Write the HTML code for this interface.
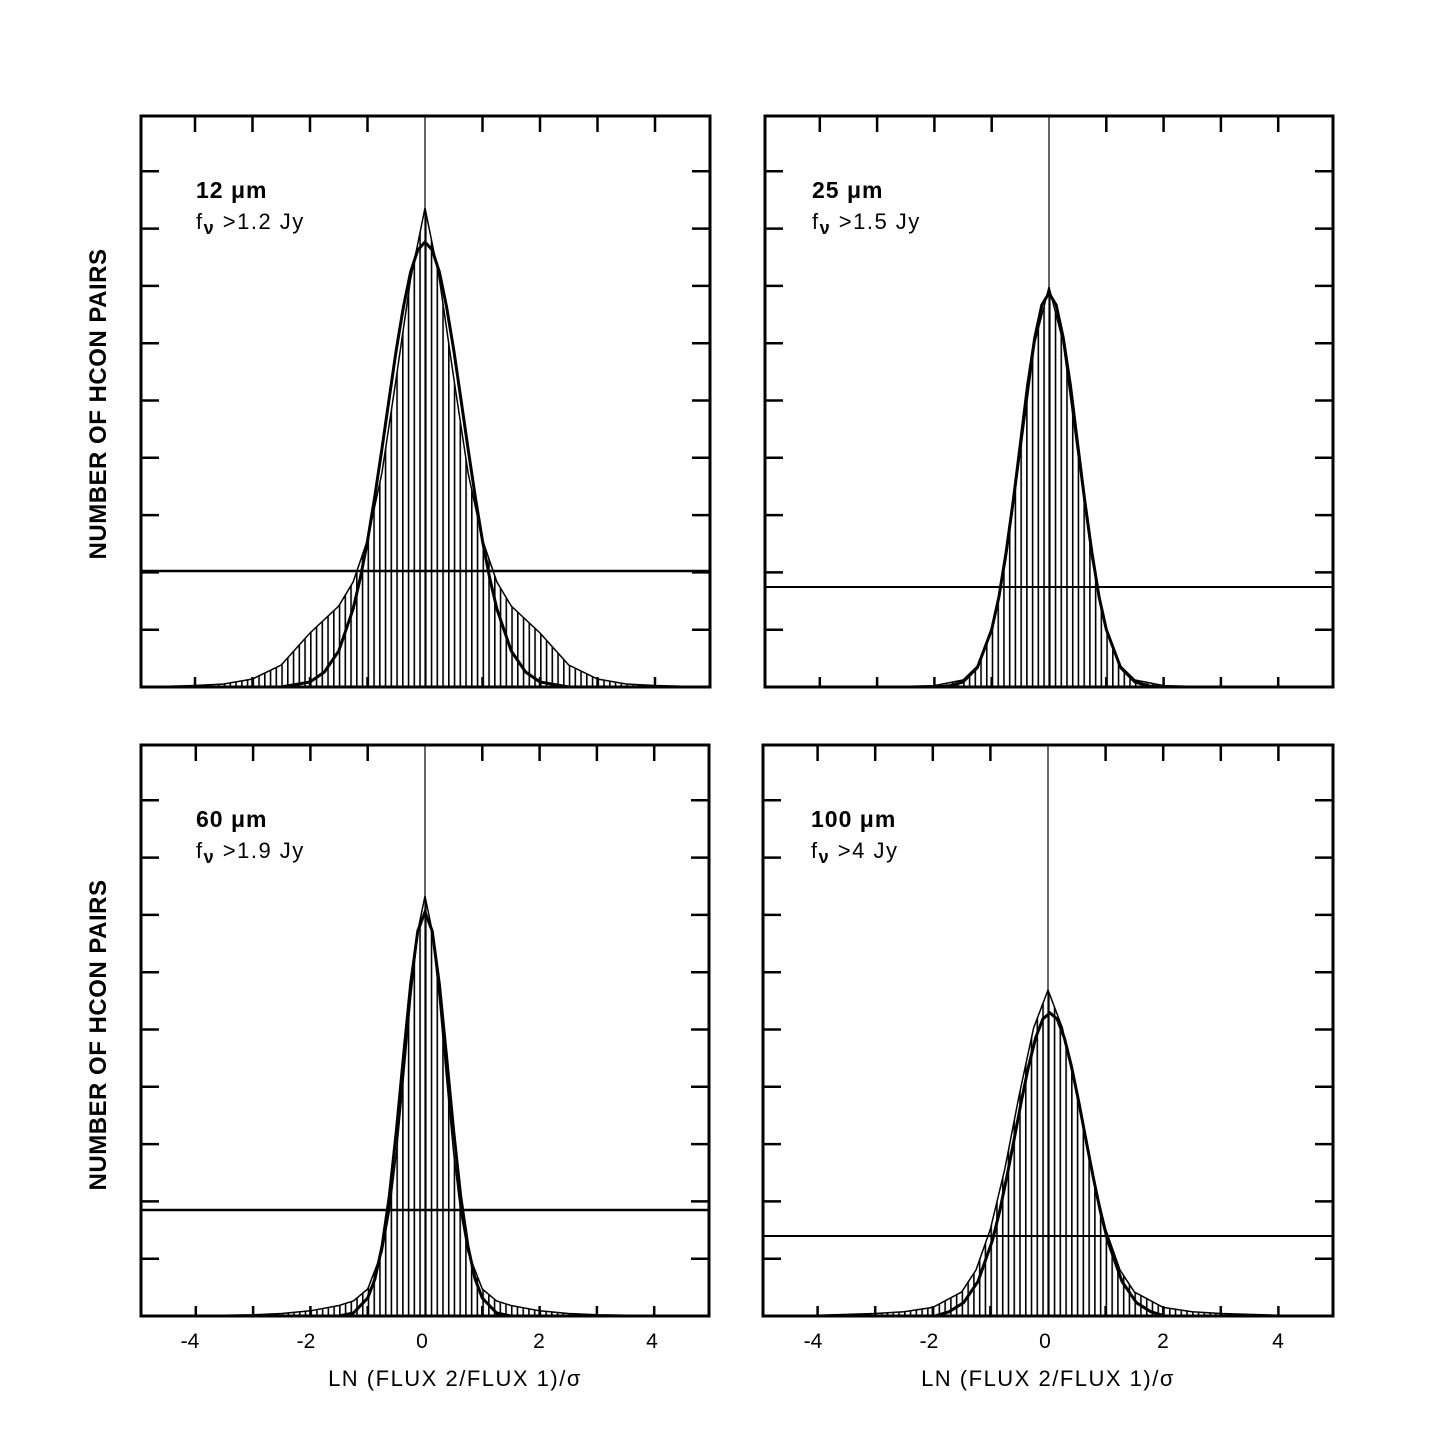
<!DOCTYPE html>
<html><head><meta charset="utf-8"><style>
html,body{margin:0;padding:0;background:#fff;}
svg{display:block;}
text{font-family:"Liberation Sans",sans-serif;fill:#000;}
</style></head><body>
<svg width="1456" height="1443" xmlns="http://www.w3.org/2000/svg">
<defs>
<pattern id="p1" x="425" y="0" width="5.75" height="10" patternUnits="userSpaceOnUse"><rect x="0" y="0" width="1.6" height="10" fill="#000"/></pattern>
<pattern id="p2" x="1049" y="0" width="5.73" height="10" patternUnits="userSpaceOnUse"><rect x="0" y="0" width="1.6" height="10" fill="#000"/></pattern>
<pattern id="p3" x="425" y="0" width="5.73" height="10" patternUnits="userSpaceOnUse"><rect x="0" y="0" width="1.6" height="10" fill="#000"/></pattern>
<pattern id="p4" x="1048" y="0" width="5.76" height="10" patternUnits="userSpaceOnUse"><rect x="0" y="0" width="1.6" height="10" fill="#000"/></pattern>
</defs>

<!-- Panel 1: 12 um -->
<path d="M141,687 L195,685.5 L223.75,684 L252.5,679 L281.25,665 L310,633 L338.75,606 L353.1,582 L367.5,540 L381.9,473 L396.25,378 L410.6,279 L425,208 L439.4,279 L453.75,378 L468.1,473 L482.5,540 L496.9,582 L511.25,606 L540,633 L568.75,665 L597.5,679 L626.25,684 L655,685.5 L710,687 Z" fill="url(#p1)" stroke="#000" stroke-width="1.5"/>
<path d="M141,687 L281.25,687 L310,682 L324.4,672 L338.75,651 L353.1,609 L360.3,578 L367.5,541 L374.7,497 L381.9,449 L389.1,399 L396.25,350 L403.4,307 L410.6,272 L417.8,250 L425,242 L432.2,250 L439.4,272 L446.6,307 L453.75,350 L460.9,399 L468.1,449 L475.3,497 L482.5,541 L489.7,578 L496.9,609 L511.25,651 L525.6,672 L540,682 L568.75,687 L710,687" fill="none" stroke="#000" stroke-width="3"/>
<line x1="141" x2="710" y1="571" y2="571" stroke="#000" stroke-width="2.5"/>
<line x1="425" x2="425" y1="116" y2="687" stroke="#000" stroke-width="1.2"/>
<rect x="141" y="116" width="569" height="571" fill="none" stroke="#000" stroke-width="3"/>
<path d="M141,629.7h18M141,572.4h18M141,515.1h18M141,457.8h18M141,400.5h18M141,343.2h18M141,285.9h18M141,228.6h18M141,171.3h18M710,629.7h-18M710,572.4h-18M710,515.1h-18M710,457.8h-18M710,400.5h-18M710,343.2h-18M710,285.9h-18M710,228.6h-18M710,171.3h-18M195,116v16M252.5,116v16M310,116v16M367.5,116v16M482.5,116v16M540,116v16M597.5,116v16M655,116v16M195,687v-10M252.5,687v-10M310,687v-10M367.5,687v-10M482.5,687v-10M540,687v-10M597.5,687v-10M655,687v-10" stroke="#000" stroke-width="2.5" fill="none"/>
<text x="196" y="198" font-size="23" font-weight="bold" letter-spacing="1">12 μm</text>
<text x="196" y="229" font-size="22" letter-spacing="1.5">f<tspan font-size="18" font-weight="bold" dy="5">ν</tspan><tspan dy="-5"> &gt;1.2 Jy</tspan></text>

<!-- Panel 2: 25 um -->
<path d="M877,687 L905.75,686.4 L934.4,685.6 L963,680 L977.4,666 L991.7,631 L1006,559 L1020.35,452 L1034.7,343 L1049,287 L1063.3,343 L1077.65,452 L1092,559 L1106.3,631 L1120.6,666 L1135,680 L1163.6,685.6 L1192.25,686.4 L1221,687 Z" fill="url(#p2)" stroke="#000" stroke-width="1.5"/>
<path d="M765,687 L934.4,687 L948.7,686 L963,682 L977.4,667.5 L991.7,629.5 L998.9,597 L1006,553 L1013.2,501 L1020.35,444 L1027.5,386 L1034.7,338 L1041.8,305 L1049,293 L1056.2,305 L1063.3,338 L1070.5,386 L1077.65,444 L1084.8,501 L1092,553 L1099.1,597 L1106.3,629.5 L1120.6,667.5 L1135,682 L1149.3,686 L1163.6,687 L1333,687" fill="none" stroke="#000" stroke-width="3"/>
<line x1="765" x2="1333" y1="587" y2="587" stroke="#000" stroke-width="2"/>
<line x1="1049" x2="1049" y1="116" y2="687" stroke="#000" stroke-width="1.2"/>
<rect x="765" y="116" width="568" height="571" fill="none" stroke="#000" stroke-width="3"/>
<path d="M765,629.7h18M765,572.4h18M765,515.1h18M765,457.8h18M765,400.5h18M765,343.2h18M765,285.9h18M765,228.6h18M765,171.3h18M1333,629.7h-18M1333,572.4h-18M1333,515.1h-18M1333,457.8h-18M1333,400.5h-18M1333,343.2h-18M1333,285.9h-18M1333,228.6h-18M1333,171.3h-18M819.8,116v16M877.1,116v16M934.4,116v16M991.7,116v16M1106.3,116v16M1163.6,116v16M1220.9,116v16M1278.2,116v16M819.8,687v-10M877.1,687v-10M934.4,687v-10M991.7,687v-10M1106.3,687v-10M1163.6,687v-10M1220.9,687v-10M1278.2,687v-10" stroke="#000" stroke-width="2.5" fill="none"/>
<text x="812" y="198" font-size="23" font-weight="bold" letter-spacing="1">25 μm</text>
<text x="812" y="229" font-size="22" letter-spacing="1.5">f<tspan font-size="18" font-weight="bold" dy="5">ν</tspan><tspan dy="-5">  &gt;1.5 Jy</tspan></text>

<!-- Panel 3: 60 um -->
<path d="M141,1316 L195.8,1315.7 L253,1314.8 L281.75,1313.5 L310.4,1310.8 L339,1305.5 L353.4,1301 L367.7,1289 L382,1252 L389.2,1212 L396.35,1153 L403.5,1077 L410.7,997 L417.8,931 L425,896 L432.2,931 L439.3,997 L446.5,1077 L453.65,1153 L460.8,1212 L468,1252 L482.3,1289 L496.6,1301 L511,1305.5 L539.6,1310.8 L568.25,1313.5 L597,1314.8 L654,1315.7 L709,1316 Z" fill="url(#p3)" stroke="#000" stroke-width="1.5"/>
<path d="M141,1316 L339,1316 L353.4,1313 L367.7,1298 L374.9,1279 L382,1246.5 L389.2,1197 L396.35,1131 L403.5,1056 L410.7,983.5 L417.8,931 L425,912 L432.2,931 L439.3,983.5 L446.5,1056 L453.65,1131 L460.8,1197 L468,1246.5 L475.1,1279 L482.3,1298 L496.6,1313 L511,1316 L709,1316" fill="none" stroke="#000" stroke-width="3"/>
<line x1="141" x2="709" y1="1210" y2="1210" stroke="#000" stroke-width="2.5"/>
<line x1="425" x2="425" y1="745" y2="1316" stroke="#000" stroke-width="1.2"/>
<rect x="141" y="745" width="568" height="571" fill="none" stroke="#000" stroke-width="3"/>
<path d="M141,1258.7h18M141,1201.4h18M141,1144.1h18M141,1086.8h18M141,1029.5h18M141,972.2h18M141,914.9h18M141,857.6h18M141,800.3h18M709,1258.7h-18M709,1201.4h-18M709,1144.1h-18M709,1086.8h-18M709,1029.5h-18M709,972.2h-18M709,914.9h-18M709,857.6h-18M709,800.3h-18M195.8,745v16M253.1,745v16M310.4,745v16M367.7,745v16M482.3,745v16M539.6,745v16M596.9,745v16M654.2,745v16M195.8,1316v-10M253.1,1316v-10M310.4,1316v-10M367.7,1316v-10M482.3,1316v-10M539.6,1316v-10M596.9,1316v-10M654.2,1316v-10" stroke="#000" stroke-width="2.5" fill="none"/>
<text x="196" y="827" font-size="23" font-weight="bold" letter-spacing="1">60 μm</text>
<text x="196" y="858" font-size="22" letter-spacing="1.5">f<tspan font-size="18" font-weight="bold" dy="5">ν</tspan><tspan dy="-5">  &gt;1.9 Jy</tspan></text>
<text x="190" y="1348" font-size="21" text-anchor="middle">-4</text>
<text x="306" y="1348" font-size="21" text-anchor="middle">-2</text>
<text x="422" y="1348" font-size="21" text-anchor="middle">0</text>
<text x="539" y="1348" font-size="21" text-anchor="middle">2</text>
<text x="652" y="1348" font-size="21" text-anchor="middle">4</text>
<text x="455" y="1386" font-size="22" text-anchor="middle" letter-spacing="1.5">LN (FLUX  2/FLUX  1)/σ</text>

<!-- Panel 4: 100 um -->
<path d="M763,1316 L817.6,1315.2 L875.2,1313.5 L904,1311.7 L932.8,1307.4 L961.6,1292 L976,1270 L990.4,1229 L1004.8,1169 L1019.2,1095 L1033.6,1028 L1048,990 L1062.4,1028 L1076.8,1095 L1091.2,1169 L1105.6,1229 L1120,1270 L1134.4,1292 L1163.2,1307.4 L1192,1311.7 L1220.8,1313.5 L1278.4,1315.2 L1333,1316 Z" fill="url(#p4)" stroke="#000" stroke-width="1.5"/>
<path d="M763,1316 L934.8,1316 L949.2,1311.7 L963.6,1302.7 L978,1281.5 L992.4,1240.5 L999.6,1211.5 L1006.8,1177 L1014,1140 L1021.2,1102 L1028.4,1067 L1035.6,1038 L1042.8,1019 L1050,1013 L1057.2,1019 L1064.4,1038 L1071.6,1067 L1078.8,1102 L1086,1140 L1093.2,1177 L1100.4,1211.5 L1107.6,1240.5 L1122,1281.5 L1136.4,1302.7 L1150.8,1311.7 L1165.2,1316 L1333,1316" fill="none" stroke="#000" stroke-width="3"/>
<line x1="763" x2="1333" y1="1236" y2="1236" stroke="#000" stroke-width="2"/>
<line x1="1048" x2="1048" y1="745" y2="1316" stroke="#000" stroke-width="1.2"/>
<rect x="763" y="745" width="570" height="571" fill="none" stroke="#000" stroke-width="3"/>
<path d="M763,1258.7h18M763,1201.4h18M763,1144.1h18M763,1086.8h18M763,1029.5h18M763,972.2h18M763,914.9h18M763,857.6h18M763,800.3h18M1333,1258.7h-18M1333,1201.4h-18M1333,1144.1h-18M1333,1086.8h-18M1333,1029.5h-18M1333,972.2h-18M1333,914.9h-18M1333,857.6h-18M1333,800.3h-18M817.6,745v16M875.2,745v16M932.8,745v16M990.4,745v16M1105.6,745v16M1163.2,745v16M1220.8,745v16M1278.4,745v16M817.6,1316v-10M875.2,1316v-10M932.8,1316v-10M990.4,1316v-10M1105.6,1316v-10M1163.2,1316v-10M1220.8,1316v-10M1278.4,1316v-10" stroke="#000" stroke-width="2.5" fill="none"/>
<text x="811" y="827" font-size="23" font-weight="bold" letter-spacing="1">100 μm</text>
<text x="811" y="858" font-size="22" letter-spacing="1.5">f<tspan font-size="18" font-weight="bold" dy="5">ν</tspan><tspan dy="-5"> &gt;4 Jy</tspan></text>
<text x="813" y="1348" font-size="21" text-anchor="middle">-4</text>
<text x="929" y="1348" font-size="21" text-anchor="middle">-2</text>
<text x="1045" y="1348" font-size="21" text-anchor="middle">0</text>
<text x="1163" y="1348" font-size="21" text-anchor="middle">2</text>
<text x="1278" y="1348" font-size="21" text-anchor="middle">4</text>
<text x="1048" y="1386" font-size="22" text-anchor="middle" letter-spacing="1.5">LN (FLUX  2/FLUX  1)/σ</text>

<!-- Y labels -->
<text x="0" y="0" transform="translate(106,404) rotate(-90)" font-size="24" font-weight="bold" text-anchor="middle" letter-spacing="0.5">NUMBER OF HCON PAIRS</text>
<text x="0" y="0" transform="translate(106,1035) rotate(-90)" font-size="24" font-weight="bold" text-anchor="middle" letter-spacing="0.5">NUMBER OF HCON PAIRS</text>
</svg>
</body></html>
